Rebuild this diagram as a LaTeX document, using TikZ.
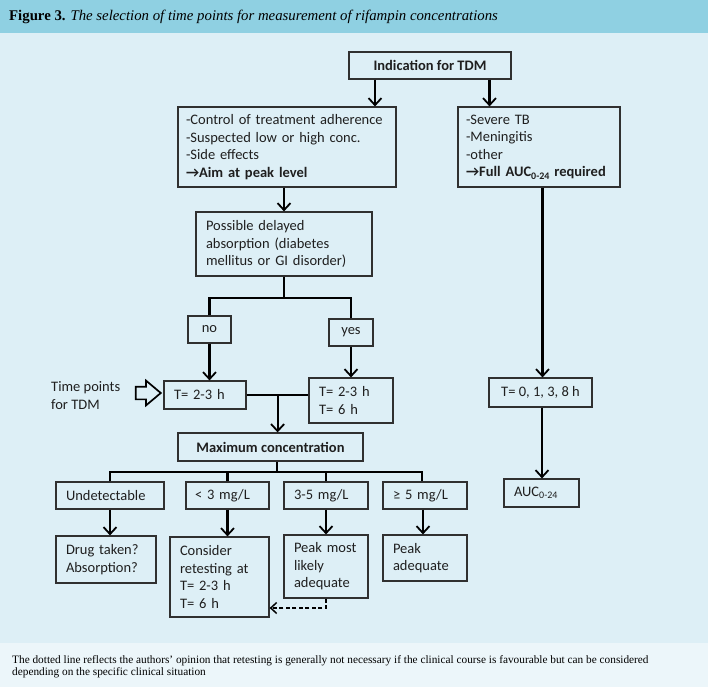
\documentclass[tikz,border=0pt]{standalone}
\usepackage{fontspec}
\setmainfont{Carlito}
\newfontfamily\serifhead{Liberation Serif}
\usetikzlibrary{arrows.meta,shapes.arrows}
\definecolor{hdr}{HTML}{8FD0E2}
\definecolor{bodybg}{HTML}{DDEFF6}
\definecolor{footbg}{HTML}{ECF6FA}
\definecolor{ink}{HTML}{303030}
\newcommand{\lowsub}[1]{\raisebox{-0.35ex}{\fontsize{10}{10}\selectfont #1}}
\begin{document}
\begin{tikzpicture}[x=1pt,y=-1pt,
  box/.style={draw=ink, line width=1.2pt, inner ysep=0pt, inner xsep=10pt,
    font=\fontsize{14.5}{17.6}\selectfont, text=black!88},
  lbox/.style={box, align=left},
  conn/.style={draw=black, line width=2.2pt},
  arr/.style={conn, -{Straight Barb[length=7pt,width=13pt,line width=1.8pt]}},
  dasharr/.style={draw=black, line width=1.7pt, dash pattern=on 4pt off 2.5pt,
    -{Straight Barb[length=6pt,width=11pt,line width=1.5pt]}},
]
\useasboundingbox (0,0) rectangle (708,687);
\fill[bodybg] (0,0) rectangle (708,687);
\fill[hdr] (0,0) rectangle (708,33);
\fill[footbg] (0,643) rectangle (708,687);

\node[anchor=base west, inner sep=0pt, font=\serifhead\fontsize{14.8}{16}\selectfont] (title) at (9,21)
  {\textbf{Figure 3.} \textit{The selection of time points for measurement of rifampin concentrations}};

% top
\node[box, inner xsep=0pt, minimum width=162pt, minimum height=27pt] (ind) at (430,65.5) {\bfseries Indication for TDM};
\node[lbox, inner xsep=8pt, text width=202pt, minimum height=80pt] (lb) at (287,147)
  {-Control of treatment adherence\\-Suspected low or high conc.\\-Side effects\\\textbf{→Aim at peak level}};
\node[lbox, inner xsep=8pt, text width=146pt, minimum height=80pt] (rb) at (539,147)
  {-Severe TB\\-Meningitis\\-other\\\textbf{→Full AUC\lowsub{0-24} required}};

\node[lbox, text width=156pt, minimum height=64pt] (poss) at (284,244)
  {Possible delayed\\absorption (diabetes\\mellitus or GI disorder)};

\node[box, inner xsep=0pt, minimum width=43pt, minimum height=27pt] (no) at (209.5,329.5) {no};
\node[box, inner xsep=0pt, minimum width=44pt, minimum height=27pt] (yes) at (351,332.5) {yes};

\node[lbox, text width=62pt, minimum height=28pt] (t1) at (205,395) {T= 2-3 h};
\node[lbox, text width=64pt, minimum height=45pt] (t2) at (351,400.5) {T= 2-3 h\\T= 6 h};
\node[box, inner xsep=0pt, minimum width=103pt, minimum height=29pt] (t0) at (540.5,392.5) {T= 0, 1, 3, 8 h};
\node[lbox, text width=55pt, minimum height=28pt] (auc) at (541.5,493) {AUC\lowsub{0-24}};

\node[anchor=base west, align=left, inner sep=0pt, font=\fontsize{14.5}{17.5}\selectfont, text=black!88] (tp) at (51,409)
  {Time points\\for TDM};
\node[single arrow, draw=black, line width=1.7pt, inner xsep=0pt, inner ysep=5.5pt,
  minimum height=25pt, single arrow head extend=6pt, single arrow tip angle=80] (hollow) at (144.5,393) {};

\node[box, inner xsep=0pt, minimum width=185pt, minimum height=28pt] (max) at (270.5,447) {\bfseries Maximum concentration};

\node[lbox, inner xsep=10pt, text width=88pt, minimum height=27pt] (und) at (110,495.5) {Undetectable};
\node[lbox, inner xsep=9pt, text width=65pt, minimum height=27pt] (lt3) at (227.5,495.5) {< 3 mg/L};
\node[lbox, text width=64pt, minimum height=27pt] (mid) at (326,495.5) {3-5 mg/L};
\node[lbox, text width=64pt, minimum height=27pt] (ge5) at (425,495.5) {≥ 5 mg/L};

\node[lbox, inner xsep=10pt, text width=80pt, minimum height=47pt] (drug) at (106,559.5) {Drug taken?\\Absorption?};
\node[lbox, text width=79pt, minimum height=80pt] (cons) at (219.5,577) {Consider\\retesting at\\T= 2-3 h\\T= 6 h};
\node[lbox, text width=64pt, minimum height=63pt] (pm) at (326,566.5) {Peak most\\likely\\adequate};
\node[lbox, text width=64pt, minimum height=46pt] (pa) at (425,558) {Peak\\adequate};

\node[anchor=base west, align=left, inner sep=0pt, font=\serifhead\fontsize{11.3}{12}\selectfont] (foot) at (12,675)
  {The dotted line reflects the authors’ opinion that retesting is generally not necessary if the clinical course is favourable but can be considered\\depending on the specific clinical situation};

% connectors
\draw[arr] ([xshift=-55pt]ind.south) -- ([xshift=-55pt]ind.south |- lb.north);
\draw[arr] ([xshift=59.5pt]ind.south) -- ([xshift=59.5pt]ind.south |- rb.north);
\draw[arr] (poss.north |- lb.south) -- (poss.north);
\draw[conn] (poss.south) -- ++(0,21) coordinate (j1);
\draw[conn] (no.north) |- (j1) -| (yes.north);
\draw[arr] (no.south) -- (no.south |- t1.north);
\draw[arr] (yes.south) -- (t2.north);
\draw[conn] (t1.east) -- (t1.east -| t2.west);
\draw[arr] ([xshift=31pt]t1.east) -- ([xshift=31pt]t1.east |- max.north);
\draw[conn] ([xshift=6.5pt]max.south) -- ++(0,10) coordinate (j2);
\draw[conn] (und.north) |- (j2) -| ([xshift=-3pt]ge5.north);
\draw[conn] (lt3.north) -- (lt3.north |- j2);
\draw[conn] (mid.north) -- (mid.north |- j2);
\draw[arr] (und.south) -- (und.south |- drug.north);
\draw[arr] (lt3.south) -- (lt3.south |- cons.north);
\draw[arr] (mid.south) -- (pm.north);
\draw[arr] ([xshift=-2pt]ge5.south) -- ([xshift=-2pt]ge5.south |- pa.north);
\draw[arr] ([xshift=3.5pt]rb.south) -- ([xshift=3.5pt]rb.south |- t0.north);
\draw[arr] ([xshift=1.5pt]t0.south) -- ([xshift=1.5pt]t0.south |- auc.north);
\draw[dasharr] (pm.south) |- ([yshift=-31pt]cons.east);
\end{tikzpicture}
\end{document}
